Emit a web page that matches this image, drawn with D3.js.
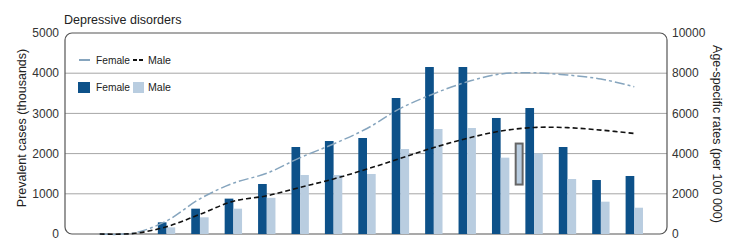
<!DOCTYPE html>
<html>
<head>
<meta charset="utf-8">
<script src="https://cdn.jsdelivr.net/npm/d3@7"></script>
<style>
  html, body { margin: 0; padding: 0; background: #fff; }
  svg { display: block; font-family: "Liberation Sans", Arial, sans-serif; }
</style>
</head>
<body>
<svg id="chart" width="736" height="243"></svg>
<script>
const ageGroups = ["0-4","5-9","10-14","15-19","20-24","25-29","30-34","35-39","40-44","45-49","50-54","55-59","60-64","65-69","70-74","75-79","80+"];
const femaleCases = [0, 0, 290, 630, 880, 1244, 2164, 2313, 2388, 3383, 4154, 4154, 2886, 3134, 2164, 1343, 1443];
const maleCases   = [0, 0, 165, 415, 630, 900, 1468, 1468, 1493, 2114, 2612, 2637, 1899, 2007, 1368, 804, 654];
const femaleRate  = [0, 40, 650, 1750, 2530, 3020, 3800, 4480, 5250, 6250, 6980, 7570, 7960, 8020, 7910, 7710, 7330];
const maleRate    = [0, 25, 360, 980, 1630, 1900, 2320, 2740, 3230, 3765, 4300, 4760, 5120, 5300, 5290, 5170, 5000];
const leftTicks  = [0, 1000, 2000, 3000, 4000, 5000];
const rightTicks = [0, 2000, 4000, 6000, 8000, 10000];
const highlight = { category: "65-69", from: 1230, to: 2250 };

const svg = d3.select("#chart");
const frame = { left: 65, right: 667, top: 33, bottom: 234 };

const x = d3.scaleBand().domain(ageGroups).range([83, 651]);
const yL = d3.scaleLinear().domain([0, 5000]).range([frame.bottom, frame.top]);
const yR = d3.scaleLinear().domain([0, 10000]).range([frame.bottom, frame.top]);
const bw = x.bandwidth() * 0.26;
const cx = d => x(d) + x.bandwidth() / 2;

// gridlines
svg.append("g").selectAll("line").data(leftTicks.filter(t => t > 0 && t < 5000)).join("line")
  .attr("x1", frame.left).attr("x2", frame.right)
  .attr("y1", d => yL(d)).attr("y2", d => yL(d))
  .attr("stroke", "#a6a6a6").attr("stroke-width", 1);

// frame
svg.append("rect")
  .attr("x", frame.left).attr("y", frame.top)
  .attr("width", frame.right - frame.left).attr("height", frame.bottom - frame.top)
  .attr("rx", 7).attr("ry", 7)
  .attr("fill", "none").attr("stroke", "#555").attr("stroke-width", 1.2);

// bars
svg.append("g").selectAll("rect").data(ageGroups).join("rect")
  .attr("x", d => cx(d) - bw).attr("width", bw)
  .attr("y", (d, i) => yL(femaleCases[i]))
  .attr("height", (d, i) => yL(0) - yL(femaleCases[i]))
  .attr("fill", "#0d5189");
svg.append("g").selectAll("rect").data(ageGroups).join("rect")
  .attr("x", d => cx(d)).attr("width", bw)
  .attr("y", (d, i) => yL(maleCases[i]))
  .attr("height", (d, i) => yL(0) - yL(maleCases[i]))
  .attr("fill", "#b9cde0");

// highlighted box artifact
svg.append("rect")
  .attr("x", x(highlight.category) - x.bandwidth() * 0.05)
  .attr("width", bw * 0.8)
  .attr("y", yL(highlight.to))
  .attr("height", yL(highlight.from) - yL(highlight.to))
  .attr("fill", "#b9cde0").attr("stroke", "#666").attr("stroke-width", 2);

// lines
const line = arr => d3.line().x((d, i) => cx(ageGroups[i])).y(d => yR(d)).curve(d3.curveCatmullRom.alpha(0.5))(arr);
svg.append("path").attr("d", line(femaleRate))
  .attr("fill", "none").attr("stroke", "#86a5be").attr("stroke-width", 1.5)
  .attr("stroke-dasharray", "10,3,3,3");
svg.append("path").attr("d", line(maleRate))
  .attr("fill", "none").attr("stroke", "#111").attr("stroke-width", 1.6)
  .attr("stroke-dasharray", "5,3");

// axes labels
svg.append("g").selectAll("text").data(leftTicks).join("text")
  .attr("x", 59).attr("y", d => yL(d)).attr("dy", "0.35em")
  .attr("text-anchor", "end").attr("font-size", 12).attr("fill", "#333")
  .text(d => d);
svg.append("g").selectAll("text").data(rightTicks).join("text")
  .attr("x", 672).attr("y", d => yR(d)).attr("dy", "0.35em")
  .attr("text-anchor", "start").attr("font-size", 12).attr("fill", "#333")
  .text(d => d);

svg.append("text").attr("transform", "translate(26,128) rotate(-90)")
  .attr("text-anchor", "middle").attr("font-size", 12.5).attr("fill", "#222")
  .text("Prevalent cases (thousands)");
svg.append("text").attr("transform", "translate(713,134) rotate(90)")
  .attr("text-anchor", "middle").attr("font-size", 12.5).attr("fill", "#222")
  .text("Age-specific rates (per 100 000)");

svg.append("text").attr("x", 64).attr("y", 24)
  .attr("font-size", 12.5).attr("fill", "#222").text("Depressive disorders");

// legends
const lg = svg.append("g").attr("font-size", 11).attr("fill", "#222");
const lt = (xx, yy, s, len) => lg.append("text").attr("x", xx).attr("y", yy).attr("dy", "0.35em")
  .attr("textLength", len).attr("lengthAdjust", "spacingAndGlyphs").text(s);
lg.append("line").attr("x1", 79).attr("x2", 90).attr("y1", 60).attr("y2", 60)
  .attr("stroke", "#86a5be").attr("stroke-width", 2);
lt(96, 60, "Female", 34);
lg.append("line").attr("x1", 133).attr("x2", 144).attr("y1", 60).attr("y2", 60)
  .attr("stroke", "#111").attr("stroke-width", 2).attr("stroke-dasharray", "4,2");
lt(148, 60, "Male", 23);
lg.append("rect").attr("x", 78).attr("y", 82).attr("width", 12).attr("height", 11).attr("fill", "#0d5189");
lt(96, 87.5, "Female", 34);
lg.append("rect").attr("x", 133).attr("y", 82).attr("width", 11).attr("height", 11).attr("fill", "#b9cde0");
lt(148, 87.5, "Male", 23);
</script>
</body>
</html>
